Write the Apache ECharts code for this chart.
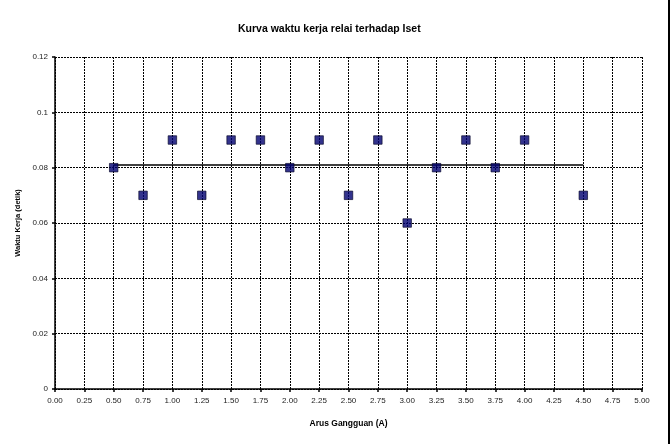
<!DOCTYPE html>
<html>
<head>
<meta charset="utf-8">
<script src="https://cdn.jsdelivr.net/npm/echarts@6/dist/echarts.min.js"></script>
<style>
  html, body { margin: 0; padding: 0; background: #fff; }
  #chart { width: 672px; height: 444px; }
</style>
</head>
<body>
<div id="chart"></div>
<script>
// arus gangguan (A) dan waktu kerja (detik)
const arus = [0.5, 0.75, 1.0, 1.25, 1.5, 1.75, 2.0, 2.25, 2.5, 2.75, 3.0, 3.25, 3.5, 3.75, 4.0, 4.5]
const waktu = [0.08, 0.07, 0.09, 0.07, 0.09, 0.09, 0.08, 0.09, 0.07, 0.09, 0.06, 0.08, 0.09, 0.08, 0.09, 0.07]
// garis setting waktu
const garisX = [0.5, 4.5]
const garisY = [0.081, 0.081]

const chart = echarts.init(document.getElementById('chart'))
const font = 'Liberation Sans, Arial, sans-serif'

chart.setOption({
  backgroundColor: '#fff',
  animation: false,
  title: {
    text: 'Kurva waktu kerja relai terhadap Iset',
    left: 233,
    top: 19,
    textStyle: { color: '#000', fontSize: 10.5, fontWeight: 'bold', fontFamily: font }
  },
  grid: {
    left: 55,
    right: 30,
    top: 57,
    bottom: 55
  },
  xAxis: {
    type: 'value',
    min: 0,
    max: 5,
    interval: 0.25,
    name: 'Arus Gangguan (A)',
    nameLocation: 'middle',
    nameGap: 30,
    nameTextStyle: { color: '#000', fontSize: 8.5, fontWeight: 'bold', fontFamily: font },
    axisLine: { onZero: false, lineStyle: { color: '#000', width: 1.5 } },
    axisTick: { length: 3, lineStyle: { color: '#000', width: 1.5 } },
    axisLabel: {
      color: '#222',
      fontSize: 8,
      fontFamily: font,
      margin: 8,
      formatter: function(v) {
        return v.toFixed(2)
      }
    },
    splitLine: { show: true, lineStyle: { color: '#000', type: [2, 1], width: 1 } }
  },
  yAxis: {
    type: 'value',
    min: 0,
    max: 0.12,
    interval: 0.02,
    name: 'Waktu Kerja (detik)',
    nameLocation: 'middle',
    nameGap: 33,
    nameTextStyle: { color: '#000', fontSize: 7.5, fontWeight: 'bold', fontFamily: font },
    axisLine: { show: true, lineStyle: { color: '#000', width: 1.5 } },
    axisTick: { show: true, length: 3, lineStyle: { color: '#000', width: 1.5 } },
    axisLabel: { color: '#222', fontSize: 8, fontFamily: font, margin: 7 },
    splitLine: { show: true, lineStyle: { color: '#000', type: [2, 1], width: 1 } }
  },
  graphic: [{
    type: 'line',
    shape: { x1: 669, y1: 0, x2: 669, y2: 444 },
    style: { stroke: '#000', lineWidth: 2 }
  }],
  series: [{
    name: 'setting',
    type: 'line',
    data: garisX.map(function(x, i) { return [x, garisY[i]] }),
    symbol: 'none',
    lineStyle: { color: '#000', width: 1.5 },
    z: 2
  }, {
    name: 'waktu kerja',
    type: 'scatter',
    data: arus.map(function(x, i) { return [x, waktu[i]] }),
    symbol: 'rect',
    symbolSize: 8.5,
    itemStyle: { color: '#000070', borderColor: '#000022', borderWidth: 0.8 },
    z: 3
  }]
})
</script>
</body>
</html>
